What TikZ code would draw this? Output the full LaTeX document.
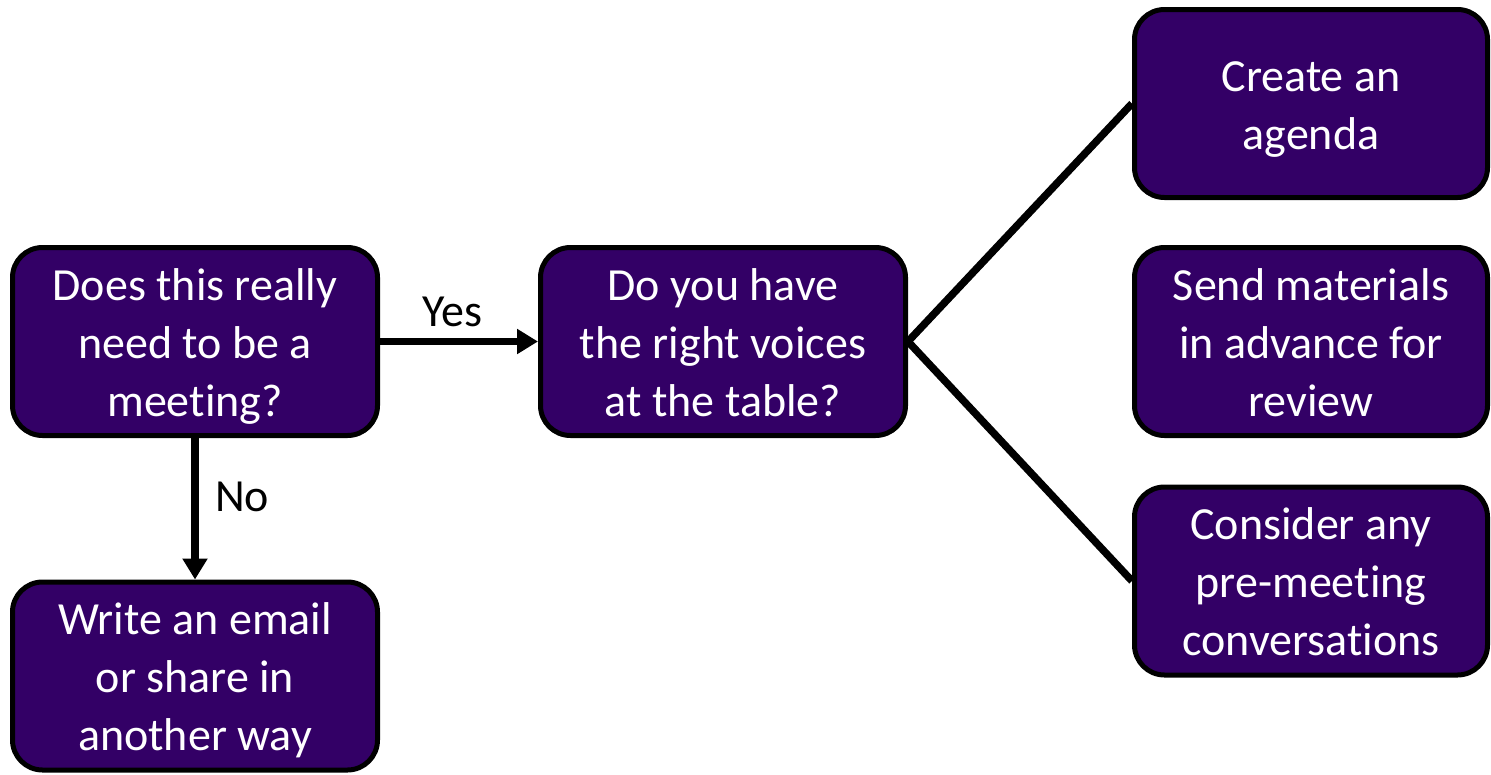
\documentclass[tikz,border=0pt]{standalone}
\usepackage{fontspec}
\setmainfont{Carlito}[Ligatures=NoCommon]
\usetikzlibrary{arrows.meta}
\definecolor{boxpurple}{HTML}{330066}
\newcommand{\boxtext}[1]{\raisebox{-5pt}[\height][\depth]{\begin{tabular}{@{}c@{}}#1\end{tabular}}}
\tikzset{
  box/.style={draw=black, line width=5pt, fill=boxpurple, rounded corners=30pt,
    text=white, align=center, inner sep=0pt, minimum height=188pt,
    font=\fontsize{46}{58}\selectfont},
  lbl/.style={text=black, font=\fontsize{46}{58}\selectfont, inner sep=0pt},
  conn/.style={line width=7.5pt, black},
  arr/.style={conn, -{Triangle[length=21pt,width=24pt]}}
}
\begin{document}
\begin{tikzpicture}[x=1pt,y=-1pt]
\useasboundingbox (0,0) rectangle (1491,774);
\node[box, minimum width=365pt] (A) at (195,341.5) {\boxtext{Does this really\\need to be a\\meeting?}};
\node[box, minimum width=365pt] (B) at (195,676) {\boxtext{Write an email\\or share in\\another way}};
\node[box, minimum width=365pt] (C) at (723,341.5) {\boxtext{Do you have\\the right voices\\at the table?}};
\node[box, minimum width=353pt] (D) at (1311,103.5) {\boxtext{Create an\\agenda}};
\node[box, minimum width=353pt] (E) at (1311,341.5) {\boxtext{Send materials\\in advance for\\review}};
\node[box, minimum width=353pt] (F) at (1311,581) {\boxtext{Consider any\\pre-meeting\\conversations}};
\draw[arr] (A.east) -- (C.west);
\draw[arr] (A.south) -- (B.north);
\draw[conn] (C.east) -- (D.west);
\draw[conn] (C.east) -- (F.west);
\node[lbl] (yes) at (452,312) {Yes};
\node[lbl] (no) at (242,497) {No};
\end{tikzpicture}
\end{document}
